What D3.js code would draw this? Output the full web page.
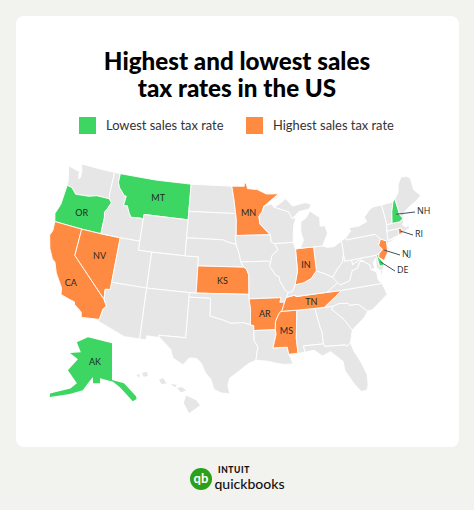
<!DOCTYPE html>
<html>
<head>
<meta charset="utf-8">
<script src="https://cdn.jsdelivr.net/npm/d3@7"></script>
<style>
  html, body { margin: 0; padding: 0; background: #f2f2ee; }
  svg { display: block; }
  text { font-family: Lato, "Open Sans", sans-serif; }
</style>
</head>
<body>
<svg id="chart" width="474" height="510"></svg>
<script>
const lowestStates = ["OR", "MT", "AK", "NH", "DE"];
const highestStates = ["CA", "NV", "MN", "KS", "IN", "AR", "MS", "TN", "NJ", "RI"];
const titleLines = ["Highest and lowest sales", "tax rates in the US"];
const legendLabels = ["Lowest sales tax rate", "Highest sales tax rate"];
const plainLabels = [["OR", -120.6, 43.7], ["MT", -109.2, 47.0], ["CA", -119.6, 36.0], ["NV", -116.5, 39.6],
  ["MN", -94.5, 46.0], ["KS", -98.4, 38.5], ["IN", -86.2, 39.9], ["AR", -92.5, 34.8], ["MS", -89.7, 32.8], ["TN", -86, 35.8]];
const calloutLabels = [["NH", -71.5, 43.6], ["RI", -71.55, 41.7], ["NJ", -74.6, 40.1], ["DE", -75.45, 38.9]];

const lower48 = {
  WA: [[-124.7,48.4],[-123.2,48.15],[-122.75,48.15],[-122.55,47.3],[-122.3,47.5],[-122.4,48.3],[-122.75,49],[-120,49],[-117.03,49],[-117.04,46.43],[-116.92,45.99],[-118.98,46],[-119.3,45.93],[-120.2,45.72],[-121.2,45.65],[-122.3,45.55],[-122.8,45.9],[-123.2,46.15],[-124,46.25],[-124.1,46.9]],
  OR: [[-124,46.25],[-123.2,46.15],[-122.8,45.9],[-122.3,45.55],[-121.2,45.65],[-120.2,45.72],[-119.3,45.93],[-118.98,46],[-116.92,45.99],[-116.46,45.6],[-116.85,44.9],[-117.2,44.4],[-117.03,43.8],[-117.03,42],[-120,42],[-124.2,42],[-124.55,42.85],[-124.1,44]],
  CA: [[-124.2,42],[-120,42],[-120,39],[-114.63,35],[-114.13,34.3],[-114.5,33.9],[-114.72,32.72],[-117.12,32.53],[-117.3,33.1],[-118.4,33.75],[-118.5,34.03],[-119.2,34.15],[-120.5,34.45],[-120.65,35.15],[-121.9,36.6],[-122.5,37.7],[-123,38],[-123.75,39],[-124.35,40.4],[-124.1,41]],
  NV: [[-120,42],[-117.03,42],[-114.04,42],[-114.04,37],[-114.04,36.2],[-114.75,36.1],[-114.63,35],[-120,39]],
  ID: [[-117.03,49],[-116.05,49],[-116.05,48],[-115.7,47.45],[-114.7,46.7],[-114.35,46.65],[-114.5,45.55],[-113.9,45.65],[-113.45,44.95],[-113,44.45],[-111.5,44.55],[-111.05,44.47],[-111.05,42],[-114.04,42],[-117.03,42],[-117.03,43.8],[-117.2,44.4],[-116.85,44.9],[-116.46,45.6],[-116.92,45.99],[-117.04,46.43]],
  MT: [[-116.05,49],[-110,49],[-104.05,49],[-104.05,45],[-111.05,45],[-111.05,44.47],[-111.5,44.55],[-113,44.45],[-113.45,44.95],[-113.9,45.65],[-114.5,45.55],[-114.35,46.65],[-114.7,46.7],[-115.7,47.45],[-116.05,48]],
  WY: [[-111.05,45],[-104.05,45],[-104.05,43],[-104.05,41],[-109.05,41],[-111.05,41],[-111.05,42]],
  UT: [[-114.04,42],[-111.05,42],[-111.05,41],[-109.05,41],[-109.05,37],[-114.04,37]],
  CO: [[-109.05,41],[-104.05,41],[-102.05,41],[-102.05,40],[-102.05,37],[-103,37],[-109.05,37]],
  AZ: [[-114.75,36.1],[-114.04,36.2],[-114.04,37],[-109.05,37],[-109.05,31.33],[-111.07,31.33],[-114.82,32.5],[-114.72,32.72],[-114.5,33.9],[-114.13,34.3],[-114.63,35]],
  NM: [[-109.05,37],[-103,37],[-103,36.5],[-103.05,32],[-106.6,32],[-106.5,31.75],[-108.2,31.78],[-108.2,31.33],[-109.05,31.33]],
  ND: [[-104.05,49],[-97.23,49],[-96.85,47.5],[-96.56,45.94],[-104.05,45.94]],
  SD: [[-104.05,45.94],[-96.56,45.94],[-96.45,45.3],[-96.45,43.5],[-96.6,43.5],[-96.45,42.49],[-97.9,42.8],[-98.5,43],[-104.05,43]],
  NE: [[-104.05,43],[-98.5,43],[-97.9,42.8],[-96.45,42.49],[-96.1,41.7],[-95.9,41.2],[-95.77,40.58],[-95.3,40],[-102.05,40],[-102.05,41],[-104.05,41]],
  KS: [[-102.05,40],[-95.3,40],[-94.9,39.75],[-94.6,39.1],[-94.62,37],[-102.05,37]],
  OK: [[-103,37],[-102.05,37],[-94.62,37],[-94.62,36.5],[-94.43,35.4],[-94.48,33.64],[-95.5,33.9],[-97.1,33.8],[-98,34.1],[-100,34.56],[-100,36.5],[-103,36.5]],
  TX: [[-106.6,32],[-103.05,32],[-103,36.5],[-100,36.5],[-100,34.56],[-98,34.1],[-97.1,33.8],[-95.5,33.9],[-94.48,33.64],[-94.04,33.55],[-94.04,33],[-94.04,31.9],[-93.55,31.2],[-93.85,29.7],[-94.7,29.4],[-95.9,28.6],[-97.2,27.7],[-97.4,26.9],[-97.15,25.95],[-98.2,26.05],[-99.1,26.4],[-99.5,27.5],[-100.3,28.3],[-100.8,29.25],[-101.4,29.77],[-102.4,29.8],[-103.15,28.98],[-104.5,29.65],[-104.9,30.6],[-106.5,31.75]],
  MN: [[-97.23,49],[-95.15,49],[-95.15,49.38],[-94.8,49.3],[-94.6,48.72],[-93,48.6],[-91.5,48.05],[-89.5,48],[-92,46.7],[-92.3,46.1],[-92.85,45.6],[-92.75,44.75],[-91.2,43.5],[-96.45,43.5],[-96.45,45.3],[-96.56,45.94],[-96.85,47.5]],
  IA: [[-96.6,43.5],[-96.45,43.5],[-91.2,43.5],[-91.1,42.7],[-90.65,42.5],[-90.15,41.8],[-91.1,41.2],[-91.4,40.38],[-91.72,40.6],[-95.77,40.58],[-95.9,41.2],[-96.1,41.7],[-96.45,42.49]],
  MO: [[-95.77,40.58],[-91.72,40.6],[-91.4,40.38],[-91.5,40],[-90.7,39],[-90.2,38.8],[-90.2,38.4],[-89.5,37.3],[-89.1,37],[-89.4,36.5],[-89.7,36],[-90.37,36],[-90.15,36.5],[-94.62,36.5],[-94.62,37],[-94.6,39.1],[-94.9,39.75],[-95.3,40]],
  AR: [[-94.62,36.5],[-90.15,36.5],[-90.37,36],[-89.7,36],[-90.1,35.1],[-90.6,34.7],[-91.1,33.9],[-91.17,33],[-94.04,33],[-94.04,33.55],[-94.48,33.64],[-94.43,35.4]],
  LA: [[-94.04,33],[-91.17,33],[-91.1,32.5],[-91.6,31],[-89.73,31],[-89.6,30.2],[-89.4,29.8],[-89.1,29.1],[-90.2,29.1],[-91.3,29.3],[-92.3,29.55],[-93.85,29.7],[-93.55,31.2],[-94.04,31.9]],
  MS: [[-91.17,33],[-91.1,33.9],[-90.6,34.7],[-90.3,35],[-88.2,35],[-88.1,34.9],[-88.47,31.9],[-88.4,30.25],[-89.6,30.2],[-89.73,31],[-91.6,31],[-91.1,32.5]],
  AL: [[-88.2,35],[-85.6,35],[-85.18,32.87],[-85,32.3],[-85,31],[-87.6,31],[-87.5,30.3],[-88,30.25],[-88.4,30.25],[-88.47,31.9],[-88.1,34.9]],
  GA: [[-85.6,35],[-84.32,35],[-83.1,35],[-83.35,34.7],[-81.9,33.4],[-81,32.1],[-81.5,30.72],[-82.05,30.37],[-82.2,30.57],[-84.86,30.7],[-85,31],[-85,32.3],[-85.18,32.87]],
  FL: [[-87.6,31],[-85,31],[-84.86,30.7],[-82.2,30.57],[-82.05,30.37],[-81.5,30.72],[-81.25,29.8],[-80.55,28.4],[-80.05,26.9],[-80.15,25.75],[-80.4,25.2],[-81.1,25.15],[-81.8,26.1],[-82.7,27.7],[-82.8,28.8],[-83.7,29.6],[-84.2,30.05],[-85.3,29.68],[-86.3,30.4],[-87.5,30.3]],
  SC: [[-83.1,35],[-82.3,35.2],[-81.05,35.1],[-80.8,34.82],[-79.67,34.8],[-78.55,33.86],[-79.2,33.2],[-81,32.1],[-81.9,33.4],[-83.35,34.7]],
  NC: [[-84.32,35],[-83.1,35],[-82.3,35.2],[-81.05,35.1],[-80.8,34.82],[-79.67,34.8],[-78.55,33.86],[-77.9,33.9],[-76.5,34.7],[-75.5,35.25],[-75.87,36.55],[-81.68,36.59],[-82.6,36]],
  TN: [[-90.3,35],[-88.2,35],[-85.6,35],[-84.32,35],[-82.6,36],[-81.68,36.59],[-83.68,36.6],[-88.07,36.5],[-88.07,36.68],[-89.4,36.5],[-89.7,36],[-90.1,35.1]],
  KY: [[-89.4,36.5],[-88.07,36.68],[-88.07,36.5],[-83.68,36.6],[-82,37.5],[-82.6,38.17],[-83.6,38.65],[-84.8,39.1],[-85.7,38.3],[-86.8,37.95],[-88.05,37.8],[-88.5,37.1],[-89.1,37]],
  VA: [[-83.68,36.6],[-81.68,36.59],[-75.87,36.55],[-76.3,37],[-76.3,37.9],[-77,38.3],[-77.05,38.85],[-77.5,39.1],[-77.75,39.32],[-78.35,39.4],[-78.9,38.7],[-79.65,38.6],[-80.3,37.5],[-81.7,37.2],[-82,37.5]],
  VA2: [[-75.95,37.15],[-75.25,38.03],[-75.7,37.95]],
  WV: [[-82,37.5],[-81.7,37.2],[-80.3,37.5],[-79.65,38.6],[-78.9,38.7],[-78.35,39.4],[-77.75,39.32],[-78.35,39.6],[-79.48,39.2],[-79.48,39.72],[-80.52,39.72],[-80.52,40.64],[-80.85,39.7],[-81.75,39],[-82.6,38.17]],
  MD: [[-79.48,39.72],[-75.79,39.72],[-75.7,38.46],[-75.05,38.45],[-75.25,38.03],[-75.7,37.95],[-76.2,38.4],[-76,39.4],[-76.5,39],[-76.4,38.3],[-77,38.3],[-77.05,38.85],[-77.5,39.1],[-77.75,39.32],[-78.35,39.6],[-79.48,39.2]],
  DE: [[-75.79,39.72],[-75.4,39.8],[-75.55,39.45],[-75.1,38.8],[-75.05,38.45],[-75.7,38.46]],
  PA: [[-80.52,41.98],[-80.52,40.64],[-80.52,39.72],[-79.48,39.72],[-75.79,39.72],[-75.4,39.8],[-74.75,40.2],[-75.2,40.7],[-74.7,41.36],[-75.35,42],[-79.76,42],[-79.76,42.27]],
  NJ: [[-75.55,39.45],[-75.4,39.8],[-74.75,40.2],[-75.2,40.7],[-74.7,41.36],[-73.9,41],[-74,40.45],[-74.1,39.75],[-74.9,38.95]],
  NY: [[-79.76,42.27],[-79.76,42],[-75.35,42],[-74.7,41.36],[-73.9,41],[-74,40.7],[-72,41.05],[-73.65,41],[-73.5,42.05],[-73.27,42.75],[-73.35,45],[-74.7,45],[-75.3,44.85],[-76.4,44.1],[-76.2,43.55],[-77.5,43.25],[-79.05,43.27],[-78.9,42.87]],
  CT: [[-73.65,41],[-71.85,41.32],[-71.8,42.02],[-73.5,42.05]],
  RI: [[-71.85,41.32],[-71.15,41.47],[-71.38,42.02],[-71.8,42.02]],
  MA: [[-73.5,42.05],[-71.8,42.02],[-71.38,42.02],[-71.15,41.47],[-70.6,41.65],[-70,41.7],[-70.2,42.05],[-70.6,41.95],[-71,42.3],[-70.6,42.65],[-70.82,42.87],[-71.3,42.7],[-72.45,42.73],[-73.27,42.75]],
  VT: [[-73.27,42.75],[-72.45,42.73],[-72.05,44],[-71.5,45.01],[-73.35,45]],
  NH: [[-72.45,42.73],[-71.3,42.7],[-70.82,42.87],[-70.7,43.07],[-70.98,43.4],[-71.08,45.3],[-71.5,45.01],[-72.05,44]],
  ME: [[-71.08,45.3],[-70.98,43.4],[-70.7,43.07],[-70.2,43.6],[-69,44.1],[-68,44.4],[-67,44.85],[-67.8,45.7],[-67.8,47.07],[-68.3,47.36],[-69.2,47.45],[-70,46.7],[-70.3,45.9]],
  OH: [[-84.8,39.1],[-83.6,38.65],[-82.6,38.17],[-81.75,39],[-80.85,39.7],[-80.52,40.64],[-80.52,41.98],[-81.7,41.5],[-82.7,41.5],[-83.45,41.73],[-84.8,41.76]],
  IN: [[-87.53,41.7],[-86.8,41.76],[-84.8,41.76],[-84.8,39.1],[-85.7,38.3],[-86.8,37.95],[-88.05,37.8],[-87.53,39.3]],
  IL: [[-90.65,42.5],[-87.8,42.5],[-87.53,41.7],[-87.53,39.3],[-88.05,37.8],[-88.5,37.1],[-89.1,37],[-89.5,37.3],[-90.2,38.4],[-90.2,38.8],[-90.7,39],[-91.5,40],[-91.4,40.38],[-91.1,41.2],[-90.15,41.8]],
  WI: [[-92,46.7],[-90.8,46.9],[-90.4,46.55],[-88.1,45.9],[-87.6,45.1],[-87,45.25],[-87.5,44.3],[-87.8,42.5],[-90.65,42.5],[-91.1,42.7],[-91.2,43.5],[-92.75,44.75],[-92.85,45.6],[-92.3,46.1]],
  MI: [[-86.8,41.76],[-84.8,41.76],[-83.45,41.73],[-83.1,42.2],[-82.45,43],[-82.6,43.9],[-83.4,43.95],[-83.3,44.9],[-84.7,45.75],[-85.5,45],[-86.3,44.7],[-86.5,43.6],[-86.2,42.6]],
  MI2: [[-90.4,46.55],[-88.1,45.9],[-87.6,45.1],[-86.5,45.8],[-84.7,46],[-84.4,46.5],[-85.3,46.75],[-87.4,46.5],[-88.4,47.4],[-89.5,46.85]]
};
const alaskaOutline = [[-141,68.8],[-157.3,69.5],[-163.3,67.6],[-159.2,65.6],[-164.9,64.6],[-159.7,63.8],[-162.9,60.6],[-157.1,58.2],[-159.3,56.6],[-166.7,53.9],[-166.3,53.1],[-159,55.3],[-153.9,56.9],[-152.1,58.8],[-150.3,60.4],[-149.8,58.9],[-146.6,59.1],[-146.8,60.3],[-140.5,59.6],[-137.4,58.2],[-132.4,54.6],[-130.7,55],[-130.8,55.7],[-135.4,59.1],[-141,60]];
const hawaiiOutlines = [
  [[-160.3,22],[-160,22.05],[-160.05,21.75]],
  [[-159.8,22.15],[-159.35,22.25],[-159.3,21.9],[-159.65,21.85]],
  [[-158.3,21.6],[-157.95,21.75],[-157.65,21.3],[-158.1,21.25]],
  [[-157.3,21.25],[-156.75,21.2],[-156.9,21]],
  [[-156.75,20.95],[-156.3,21],[-155.95,20.75],[-156.4,20.55]],
  [[-155.95,20.3],[-155.05,19.9],[-154.75,19.5],[-155.7,18.85],[-156.15,19.7]]
];

const green = "#3dd663";
const orange = "#ff8a42";
const landGrey = "#e6e6e6";

const fillFor = code => lowestStates.includes(code) ? green
  : highestStates.includes(code) ? orange : landGrey;

// d3.geo wants clockwise rings, otherwise a polygon covers the rest of the globe
function toFeature(code, ring) {
  const closed = ring.concat([ring[0]]);
  const f = { type: "Feature", id: code, geometry: { type: "Polygon", coordinates: [closed] } };
  if (d3.geoArea(f) > 2 * Math.PI) closed.reverse();
  return f;
}

const svg = d3.select("#chart");

svg.append("rect")
  .attr("x", 16).attr("y", 16)
  .attr("width", 443).attr("height", 431)
  .attr("rx", 8)
  .attr("fill", "#fff");

svg.selectAll(".title")
  .data(titleLines)
  .enter()
  .append("text")
  .attr("class", "title")
  .attr("x", 237)
  .attr("y", (d, i) => 70 + i * 27)
  .attr("text-anchor", "middle")
  .style("font-size", "24.2px")
  .style("font-weight", 900)
  .attr("fill", "#000")
  .text(d => d);

const legend = svg.append("g");
const legendX = [79, 246];
legend.selectAll("rect")
  .data(legendLabels)
  .enter()
  .append("rect")
  .attr("x", (d, i) => legendX[i])
  .attr("y", 117)
  .attr("width", 17)
  .attr("height", 17)
  .attr("fill", (d, i) => i === 0 ? green : orange);
legend.selectAll("text")
  .data(legendLabels)
  .enter()
  .append("text")
  .attr("x", (d, i) => legendX[i] + 27)
  .attr("y", 130)
  .style("font-size", "12.9px")
  .attr("fill", "#333")
  .text(d => d);

const projection = d3.geoAlbers().scale(515).translate([235, 279]);
const path = d3.geoPath(projection);
const alaskaProjection = d3.geoConicEqualArea().rotate([141, 0]).center([0, 60]).parallels([55, 65]).scale(240).translate([112, 380]);
const hawaiiProjection = d3.geoConicEqualArea().rotate([157, 0]).center([0, 20.6]).parallels([8, 18]).scale(700).translate([174, 392]);

const map = svg.append("g").attr("stroke", "#fff").attr("stroke-width", 0.9).attr("stroke-linejoin", "round");

const lowerFeatures = Object.keys(lower48).map(k => toFeature(k.replace("2", ""), lower48[k]));
map.selectAll(".state")
  .data(lowerFeatures)
  .enter()
  .append("path")
  .attr("class", "state")
  .attr("d", path)
  .attr("fill", d => fillFor(d.id));

map.append("path")
  .datum(toFeature("AK", alaskaOutline))
  .attr("d", d3.geoPath(alaskaProjection))
  .attr("fill", green)
  .attr("stroke", "none");

map.selectAll(".hawaii")
  .data(hawaiiOutlines.map(r => toFeature("HI", r)))
  .enter()
  .append("path")
  .attr("class", "hawaii")
  .attr("d", d3.geoPath(hawaiiProjection))
  .attr("fill", landGrey)
  .attr("stroke", "none");

const stateLabels = svg.append("g")
  .attr("text-anchor", "middle")
  .attr("fill", "#1c2a22")
  .style("font-family", "'Open Sans', sans-serif")
  .style("font-size", "9px");

stateLabels.selectAll(".plain")
  .data(plainLabels)
  .enter()
  .append("text")
  .attr("class", "plain")
  .attr("x", d => projection([d[1], d[2]])[0])
  .attr("y", d => projection([d[1], d[2]])[1] + 3)
  .text(d => d[0]);

stateLabels.append("text")
  .attr("x", 95)
  .attr("y", 365)
  .text("AK");

// small north-east states get a leader line out to a label in the sea
const calloutEnd = { NH: [415, 212], RI: [413, 235], NJ: [400, 255], DE: [395, 271] };
const callouts = svg.append("g");
calloutLabels.forEach(d => {
  const [x, y] = projection([d[1], d[2]]);
  const [ex, ey] = calloutEnd[d[0]];
  callouts.append("line")
    .attr("x1", x).attr("y1", y)
    .attr("x2", ex).attr("y2", ey)
    .attr("stroke", "#3c5566")
    .attr("stroke-width", 1);
  callouts.append("text")
    .attr("x", ex + 2).attr("y", ey + 2)
    .attr("fill", "#1c2a22")
    .style("font-family", "'Open Sans', sans-serif")
    .style("font-size", "9px")
    .text(d[0]);
});

// logo
const logo = svg.append("g");
logo.append("circle").attr("cx", 201).attr("cy", 479).attr("r", 11).attr("fill", "#2ca01c");
logo.append("text")
  .attr("x", 201).attr("y", 483)
  .attr("text-anchor", "middle")
  .attr("fill", "#fff")
  .style("font-size", "13px").style("font-weight", 700)
  .text("qb");
logo.append("text")
  .attr("x", 218).attr("y", 473)
  .attr("fill", "#111")
  .style("font-size", "8.5px").style("font-weight", 900).style("letter-spacing", "0.6px")
  .text("INTUIT");
logo.append("text")
  .attr("x", 214.5).attr("y", 489)
  .attr("fill", "#111")
  .style("font-size", "14px").style("font-weight", 500)
  .text("quickbooks");
</script>
</body>
</html>
